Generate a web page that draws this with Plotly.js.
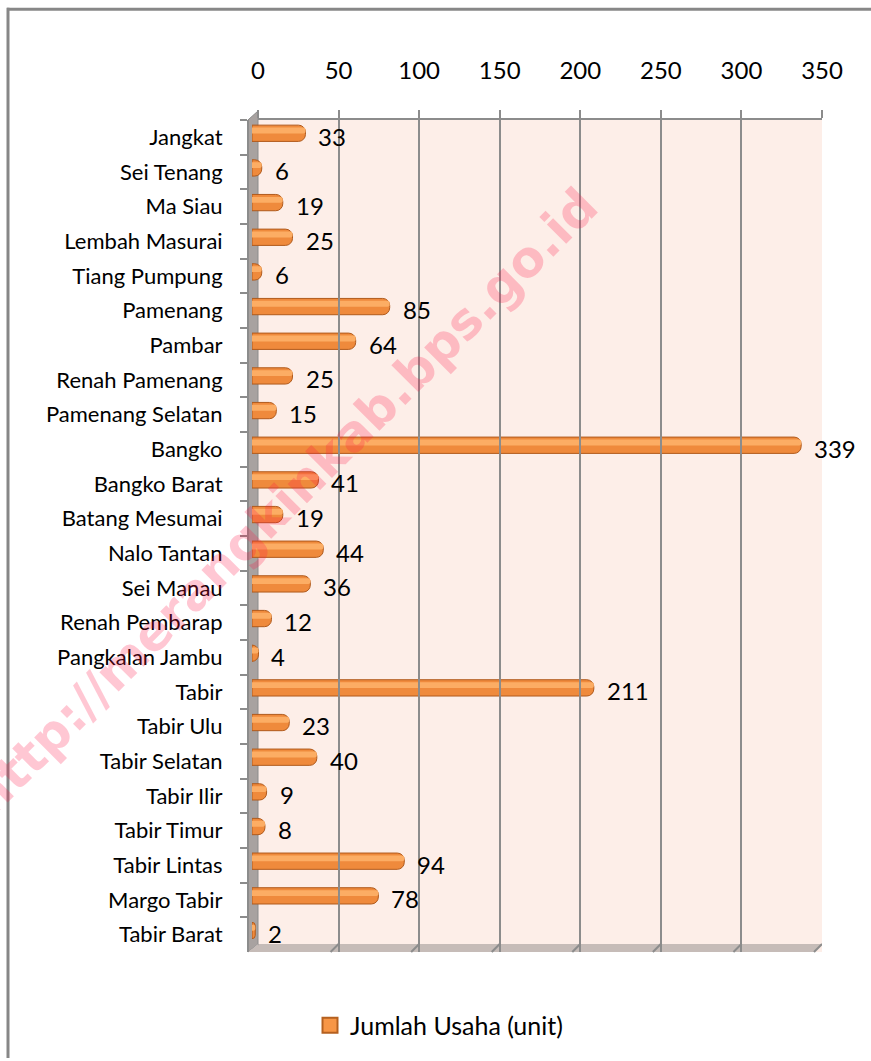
<!DOCTYPE html>
<html>
<head>
<meta charset="utf-8">
<script src="https://cdn.plot.ly/plotly-3.0.1.min.js"></script>
<style>
html,body{margin:0;padding:0;background:#fff;}
#chart{width:871px;height:1061px;}
</style>
</head>
<body>
<div id="chart"></div>
<script>
// ---- data ----
const categories = ["Jangkat","Sei Tenang","Ma Siau","Lembah Masurai","Tiang Pumpung","Pamenang","Pambar","Renah Pamenang","Pamenang Selatan","Bangko","Bangko Barat","Batang Mesumai","Nalo Tantan","Sei Manau","Renah Pembarap","Pangkalan Jambu","Tabir","Tabir Ulu","Tabir Selatan","Tabir Ilir","Tabir Timur","Tabir Lintas","Margo Tabir","Tabir Barat"];
const values = [33,6,19,25,6,85,64,25,15,339,41,19,44,36,12,4,211,23,40,9,8,94,78,2];
const tickValues = [0,50,100,150,200,250,300,350];
const seriesName = "Jumlah Usaha (unit)";
const watermark = "http://merangkinkab.bps.go.id";

// ---- layout geometry (pixels) ----
const W = 871, H = 1061;
const L = 248, R = 49, T = 111, B = 102;
const PW = W - L - R, PH = H - T - B;
const px = x => (x - L) / PW;
const py = y => (H - B - y) / PH;
const FONT = "Lato, 'Open Sans', sans-serif";

const base = {
  type: "bar", orientation: "h",
  x: values, y: categories,
  width: 0.47, offset: -0.35,
  name: seriesName, showlegend: false,
  marker: {color: "#ef8a3c", line: {color: "#b05a1c", width: 1}, cornerradius: 7},
  xaxis: "x", yaxis: "y",
  hoverinfo: "x+y"
};
const shine = {
  type: "bar", orientation: "h",
  x: values, y: categories,
  width: 0.17, offset: -0.28,
  showlegend: false,
  marker: {color: "#fcad64", line: {width: 0}, cornerradius: 3},
  xaxis: "x", yaxis: "y",
  hoverinfo: "skip"
};
// legend entry for the bar series (square swatch like the reference)
const legendEntry = {
  type: "scatter", mode: "markers", x: [null], y: [null],
  name: seriesName, showlegend: true, hoverinfo: "skip",
  marker: {symbol: "square", size: 15, color: "#f79646", line: {color: "#b5601f", width: 2}},
  xaxis: "x", yaxis: "y"
};
// invisible helper trace to activate the gridline axis
const gridHelper = {
  type: "scatter", mode: "markers", x: [tickValues[0]], y: [0],
  xaxis: "x2", yaxis: "y2", showlegend: false, hoverinfo: "skip",
  marker: {opacity: 0}
};

const dataLabels = values.map((v, i) => ({
  x: v, y: categories[i], xref: "x", yref: "y",
  text: String(v), showarrow: false, xanchor: "left", xshift: 11, yshift: 1,
  font: {family: FONT, size: 24, color: "#000"}
}));

const floorDiagonals = tickValues.map(t => ({
  type: "line", xref: "x2", yref: "paper",
  xsizemode: "pixel", xanchor: t, x0: 0, x1: -8,
  y0: py(951), y1: py(959),
  line: {color: "#8c8c8c", width: 2}, layer: "above"
}));

const layout = {
  width: W, height: H,
  margin: {l: L, r: R, t: T, b: B, pad: 0},
  paper_bgcolor: "#ffffff",
  plot_bgcolor: "rgba(0,0,0,0)",
  barmode: "overlay",
  font: {family: FONT, size: 22, color: "#000"},
  showlegend: true,
  legend: {
    orientation: "h", x: px(310), xanchor: "left", y: py(1010), yanchor: "top",
    font: {family: FONT, size: 25, color: "#000"}, bgcolor: "rgba(0,0,0,0)",
    itemwidth: 30
  },
  xaxis: {
    domain: [px(252), px(819)], range: [0, 350], anchor: "y",
    showgrid: false, zeroline: false, showticklabels: false, ticks: "", showline: false,
    fixedrange: true
  },
  xaxis2: {
    domain: [px(258), 1], range: [0, 350], anchor: "y2", side: "top",
    tickvals: tickValues, ticktext: tickValues.map(String),
    showgrid: true, gridcolor: "#8c8c8c", gridwidth: 2,
    zeroline: false, showline: true, linecolor: "#8c8c8c", linewidth: 2,
    ticks: "outside", ticklen: 8, tickwidth: 2, tickcolor: "#8c8c8c",
    ticklabelstandoff: 21,
    tickfont: {family: FONT, size: 24, color: "#000"},
    fixedrange: true
  },
  yaxis: {
    domain: [0, py(120)], type: "category", autorange: "reversed",
    anchor: "free", position: 0,
    showgrid: false, zeroline: false, showline: true, linecolor: "#8c8c8c", linewidth: 2,
    ticks: "outside", tickson: "boundaries", ticklen: 7, tickwidth: 2, tickcolor: "#8c8c8c",
    ticklabelstandoff: 20,
    tickfont: {family: FONT, size: 22, color: "#000"},
    fixedrange: true
  },
  yaxis2: {
    domain: [py(951), 1], range: [0, 1], anchor: "x2", overlaying: "y",
    visible: false, fixedrange: true
  },
  shapes: [
    // outer frame (only left and top edges are inside the picture)
    {type: "line", xref: "paper", yref: "paper", x0: px(8), x1: px(8), y0: py(7), y1: py(H + 5),
     line: {color: "#878787", width: 3}, layer: "below"},
    {type: "line", xref: "paper", yref: "paper", x0: px(7), x1: px(W + 5), y0: py(8.5), y1: py(8.5),
     line: {color: "#878787", width: 3}, layer: "below"},
    // back wall
    {type: "rect", xref: "x2 domain", yref: "y2 domain", x0: 0, x1: 1, y0: 0, y1: 1,
     fillcolor: "#fdeee8", line: {width: 0}, layer: "below"},
    // left side wall
    {type: "path", xref: "paper", yref: "paper",
     path: `M ${px(248)} ${py(120)} L ${px(258)} ${py(111)} L ${px(258)} ${py(951)} L ${px(248)} ${py(959)} Z`,
     fillcolor: "#a8a2a0", line: {color: "#8c8c8c", width: 1}, layer: "below"},
    // floor
    {type: "path", xref: "paper", yref: "paper",
     path: `M ${px(248)} ${py(959)} L ${px(258)} ${py(951)} L ${px(822)} ${py(951)} L ${px(814)} ${py(959)} Z`,
     fillcolor: "#c6bcb8", line: {width: 0}, layer: "below"},
    ...floorDiagonals
  ],
  annotations: [
    ...dataLabels,
    {x: px(284), y: py(505), xref: "paper", yref: "paper", text: watermark,
     showarrow: false, textangle: -45, xanchor: "center", yanchor: "middle",
     font: {family: "DejaVu Sans", size: 50, weight: "bold", color: "rgba(255,20,70,0.24)"}}
  ]
};

Plotly.newPlot("chart", [gridHelper, base, shine, legendEntry], layout, {displayModeBar: false, staticPlot: true});
</script>
</body>
</html>
